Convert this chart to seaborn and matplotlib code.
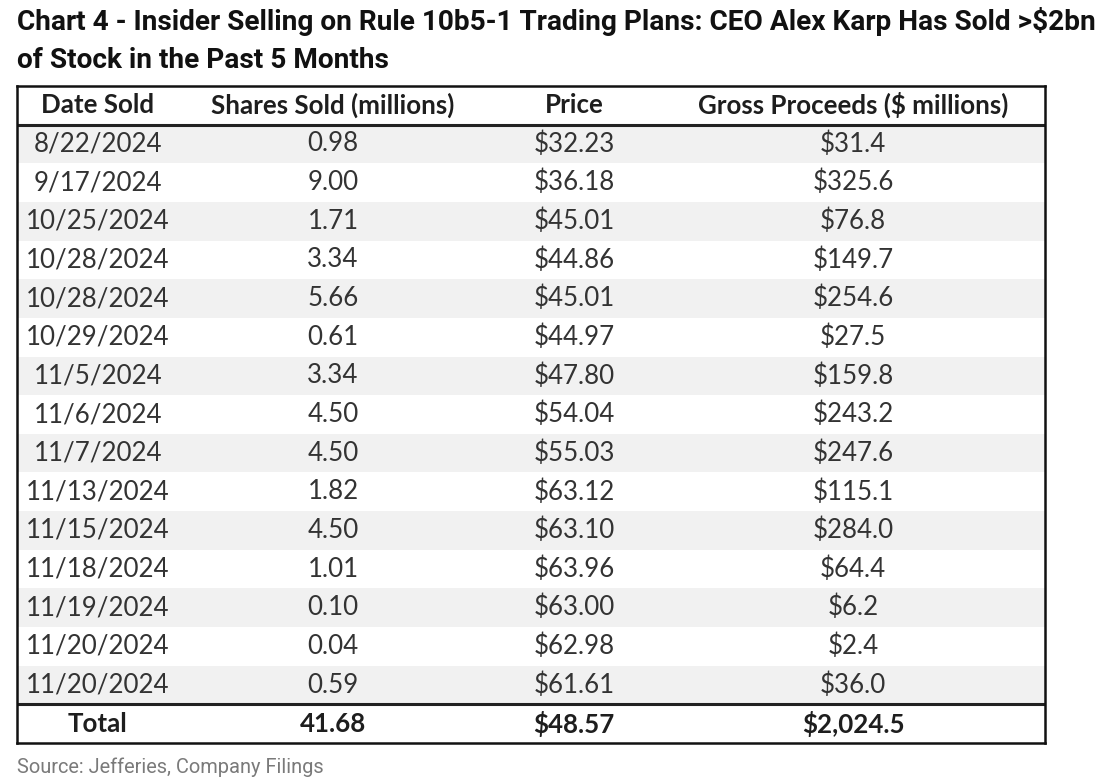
import matplotlib
matplotlib.use("Agg")
import matplotlib.pyplot as plt
import seaborn as sns
import pandas as pd

# table data
columns = ["Date Sold", "Shares Sold (millions)", "Price", "Gross Proceeds ($ millions)"]
dates = ["8/22/2024", "9/17/2024", "10/25/2024", "10/28/2024", "10/28/2024", "10/29/2024",
         "11/5/2024", "11/6/2024", "11/7/2024", "11/13/2024", "11/15/2024", "11/18/2024",
         "11/19/2024", "11/20/2024", "11/20/2024"]
shares = [0.98, 9.00, 1.71, 3.34, 5.66, 0.61, 3.34, 4.50, 4.50, 1.82, 4.50, 1.01, 0.10, 0.04, 0.59]
prices = [32.23, 36.18, 45.01, 44.86, 45.01, 44.97, 47.80, 54.04, 55.03, 63.12, 63.10, 63.96,
          63.00, 62.98, 61.61]
proceeds = [31.4, 325.6, 76.8, 149.7, 254.6, 27.5, 159.8, 243.2, 247.6, 115.1, 284.0, 64.4,
            6.2, 2.4, 36.0]
total_row = ["Total", "41.68", "$48.57", "$2,024.5"]

title_lines = ["Chart 4 - Insider Selling on Rule 10b5-1 Trading Plans: CEO Alex Karp Has Sold >$2bn",
               "of Stock in the Past 5 Months"]
source = "Source: Jefferies, Company Filings"

df = pd.DataFrame({columns[0]: dates,
                   columns[1]: [f"{v:.2f}" for v in shares],
                   columns[2]: [f"${v:.2f}" for v in prices],
                   columns[3]: [f"${v:,.1f}" for v in proceeds]})

sns.set_theme(style="white")
plt.rcParams["font.family"] = ["Lato", "DejaVu Sans"]

W, H = 1120, 783
fig = plt.figure(figsize=(W / 100, H / 100), dpi=100)
fig.patch.set_facecolor("white")

# table area in pixel coordinates
left, right, top, bottom = 17, 1045, 86, 743
ax = fig.add_axes([left / W, 1 - bottom / H, (right - left) / W, (bottom - top) / H])
n_rows = len(df) + 2
ax.set_xlim(left, right)
ax.set_ylim(n_rows, 0)
ax.set_xticks([])
ax.set_yticks([])
for s in ax.spines.values():
    s.set_linewidth(1.8)
    s.set_color("#111111")

col_x = [98, 333, 574, 853]
fs = 18.6

# striped rows
for i in range(len(df)):
    if i % 2 == 0:
        ax.axhspan(i + 1, i + 2, color="#f1f1f1", lw=0)

# header
for x, c in zip(col_x, columns):
    ax.text(x, 0.5, c, ha="center", va="center", fontsize=fs, color="#1e1e1e", fontweight="bold")

# body
for i, row in enumerate(df.itertuples(index=False)):
    for x, v in zip(col_x, row):
        ax.text(x, i + 1.5, v, ha="center", va="center", fontsize=fs, color="#333333")

# total
for x, v in zip(col_x, total_row):
    ax.text(x, n_rows - 0.5, v, ha="center", va="center", fontsize=fs, color="#1e1e1e",
            fontweight="bold")

# separators
ax.axhline(1, color="#222222", lw=2.2)
ax.axhline(n_rows - 1, color="#222222", lw=2.2)

for y, line in zip([22, 60], title_lines):
    fig.text(17 / W, 1 - y / H, line, ha="left", va="center", fontsize=20.2, fontweight="bold",
             color="#111111", family=["Roboto", "DejaVu Sans"])
fig.text(17 / W, 1 - 767 / H, source, ha="left", va="center", fontsize=14.4,
         color="#7a7a7a", family=["Roboto", "DejaVu Sans"])

fig.savefig("out.png", dpi=100, facecolor="white")
